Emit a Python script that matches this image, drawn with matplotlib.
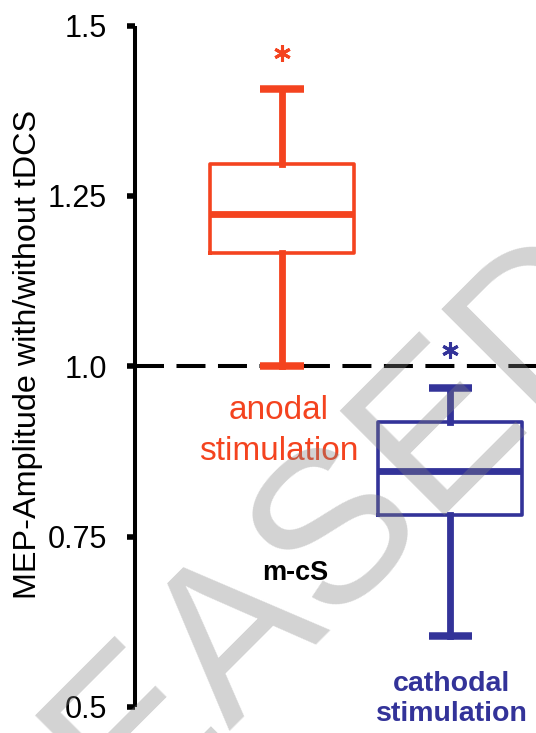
import matplotlib.pyplot as plt

plt.rcParams['font.family'] = ['Liberation Sans', 'DejaVu Sans']

# Box statistics (ratio with/without tDCS)
groups = ['anodal', 'cathodal']
whisker_low = [1.000, 0.604]
q1 = [1.166, 0.781]
median = [1.224, 0.847]
q3 = [1.297, 0.918]
whisker_high = [1.407, 0.968]
star_y = [1.460, 1.024]

group_labels = ['anodal\nstimulation', 'cathodal\nstimulation']
colors = ['#F4431F', '#333399']

yticks = [0.5, 0.75, 1.0, 1.25, 1.5]
ytick_labels = ['0.5', '0.75', '1.0', '1.25', '1.5']

fig = plt.figure(figsize=(5.36, 7.33), dpi=100)
ax = fig.add_axes([135.3 / 536, 26 / 733, 400.7 / 536, 681.5 / 733])

positions = [1, 2]
for i in range(len(groups)):
    stats = [{'med': median[i], 'q1': q1[i], 'q3': q3[i],
              'whislo': whisker_low[i], 'whishi': whisker_high[i], 'fliers': []}]
    c = colors[i]
    ax.bxp(stats, positions=[positions[i]], widths=0.856, capwidths=0.256,
           showfliers=False, manage_ticks=False,
           boxprops=dict(color=c, linewidth=2.6),
           medianprops=dict(color=c, linewidth=4.9, solid_capstyle='butt'),
           whiskerprops=dict(color=c, linewidth=4.9),
           capprops=dict(color=c, linewidth=5.4, solid_capstyle='butt'),
           zorder=3)
    # significance star
    ax.plot(positions[i], star_y[i], marker=(6, 2, 0), markersize=12,
            mew=2.2, color=c, clip_on=False, zorder=4)

# reference line at ratio 1
ax.axhline(1.0, color='black', lw=2.9, ls=(0, (7.2, 3.1)), zorder=2)

# group labels under / beside the boxes
ax.text(0.979, 0.8624, group_labels[0], color=colors[0], fontsize=24,
        ha='center', va='baseline', linespacing=1.40, multialignment='center')
ax.text(2.01, 0.4795, group_labels[1], color=colors[1], fontsize=20.5,
        fontweight='bold', ha='center', va='baseline', linespacing=1.18,
        multialignment='center', clip_on=False)
ax.text(1.077, 0.6864, 'm-cS', color='black', fontsize=19.5, fontweight='bold',
        ha='center', va='baseline')

ax.set_xlim(0.128, 2.51)
ax.set_ylim(0.5, 1.5)
ax.set_yticks(yticks)
ax.set_yticklabels(ytick_labels, fontsize=22)
ax.tick_params(axis='y', length=5.5, width=4, pad=15)
ax.set_xticks([])
for side in ['top', 'right', 'bottom']:
    ax.spines[side].set_visible(False)
ax.spines['left'].set_linewidth(2.9)
ax.spines['left'].set_capstyle('butt')

ax.set_ylabel('MEP-Amplitude with/without tDCS', fontsize=23.3)
ax.yaxis.set_label_coords(-0.231, 0.518)

# watermark
fig.text(194 / 536, (733 - 670) / 733, 'RELEASED', fontsize=155, color='#808080',
         alpha=0.35, rotation=45, rotation_mode='anchor', ha='center', va='center',
         zorder=10)

fig.savefig('out.png', dpi=100)
